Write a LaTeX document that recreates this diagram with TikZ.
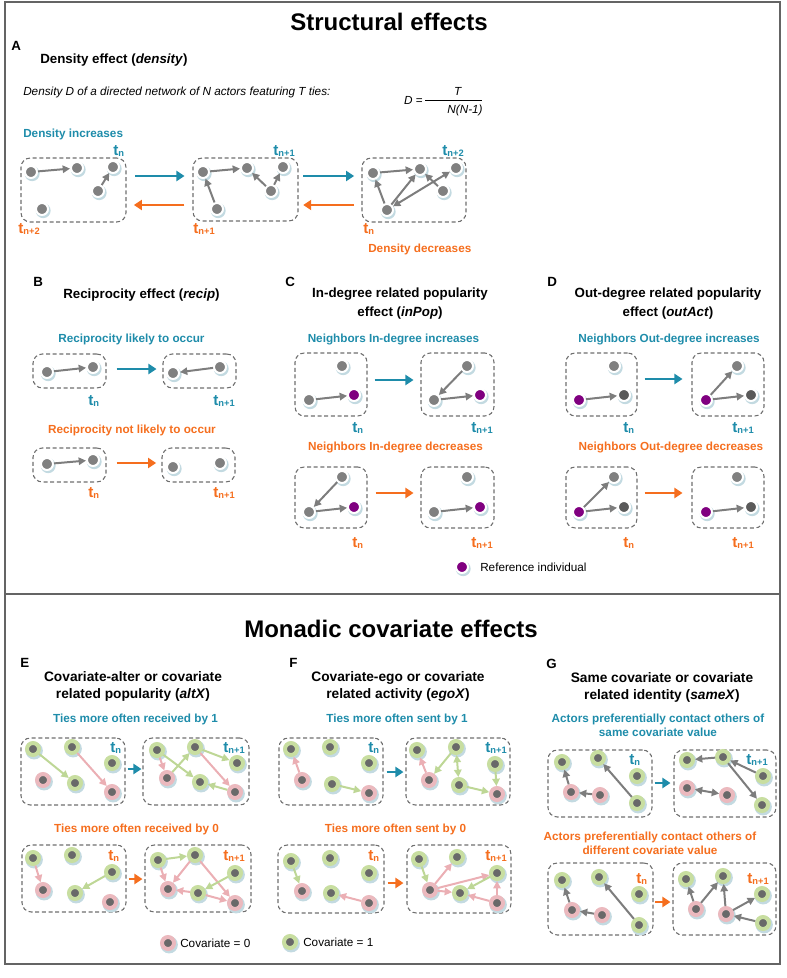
\documentclass[tikz,border=0pt]{standalone}
\usepackage{fontspec}
\setmainfont{Liberation Sans}
\usepackage{tikz}
\usetikzlibrary{arrows.meta,positioning,fit,shadows}
\definecolor{riseteal}{RGB}{30,140,170}
\definecolor{fallorange}{RGB}{245,110,30}
\definecolor{nodegray}{RGB}{128,128,128}
\definecolor{nodedark}{RGB}{90,90,90}
\definecolor{halo}{RGB}{195,218,225}
\definecolor{refpurple}{RGB}{128,0,128}
\definecolor{covcore}{RGB}{105,105,105}
\definecolor{covgreen}{RGB}{200,222,160}
\definecolor{covpink}{RGB}{235,185,190}
\definecolor{tiegreen}{RGB}{190,215,150}
\definecolor{tiepink}{RGB}{235,175,180}
\definecolor{edgegray}{RGB}{125,125,125}
\definecolor{boxgray}{RGB}{110,110,110}
\definecolor{framegray}{RGB}{100,100,100}

\newcommand{\tsub}[1]{t\raisebox{-1.2pt}{\fontsize{7}{8}\selectfont #1}}

\tikzset{
  actor/.style={circle, inner sep=0, minimum size=9pt, fill=nodegray, draw=white, line width=1.5pt,
    general shadow={fill=halo, shadow scale=1.25, shadow xshift=.7pt, shadow yshift=-1pt}},
  darkactor/.style={actor, fill=nodedark},
  refactor/.style={actor, fill=refpurple},
  cov0/.style={circle, inner sep=0, minimum size=9pt, fill=covcore, draw=covpink, line width=3pt,
    general shadow={fill=halo, shadow scale=1.45, shadow xshift=.6pt, shadow yshift=-.9pt}},
  cov1/.style={cov0, draw=covgreen},
  tie/.style={-{Triangle[length=5.5pt,width=5.5pt]}, line width=1.5pt, draw=edgegray},
  mutual/.style={tie, {Triangle[length=5.5pt,width=5.5pt]}-{Triangle[length=5.5pt,width=5.5pt]}},
  gtie/.style={tie, draw=tiegreen},
  ptie/.style={tie, draw=tiepink},
  gmutual/.style={mutual, draw=tiegreen},
  pmutual/.style={mutual, draw=tiepink},
  netbox/.style={draw=boxgray, dash pattern=on 3pt off 2pt, line width=.8pt, rounded corners=7pt, inner sep=0},
  risearrow/.style={-{Triangle[length=6pt,width=7.5pt]}, line width=2.2pt, draw=riseteal},
  fallarrow/.style={risearrow, draw=fallorange},
  heading/.style={font=\fontsize{18}{21}\selectfont\bfseries, inner sep=0, anchor=base},
  letter/.style={font=\fontsize{10}{12}\selectfont\bfseries, inner sep=0, anchor=base west},
  ptitle/.style={font=\fontsize{10}{14.25}\selectfont\bfseries, inner sep=0},
  ctitle/.style={font=\fontsize{10.3}{12.75}\selectfont\bfseries, inner sep=0, align=center, anchor=north},
  body/.style={font=\fontsize{8.8}{10.5}\selectfont, inner sep=0},
  risetxt/.style={font=\fontsize{8.8}{10.5}\selectfont\bfseries, text=riseteal, inner sep=0},
  falltxt/.style={risetxt, text=fallorange},
  risetime/.style={font=\fontsize{11.5}{13}\selectfont\bfseries, text=riseteal, inner sep=0, anchor=base west},
  falltime/.style={risetime, text=fallorange},
  frame/.style={draw=framegray, line width=1.1pt}
}

\begin{document}
\begin{tikzpicture}[x=0.75pt, y=-0.75pt]
\useasboundingbox (0,0) rectangle (787,978);
% Frame and divider
\draw[frame] (5,2) rectangle (780,964);
\draw[frame] (5,594) -- (780,594);
\node[heading] (hstruct) at (389,30) {Structural effects};
\node[heading] (hmona) at (391,637) {Monadic covariate effects};

% A: density
\node[letter] (labA) at (11,50) {A};
\node[ptitle, anchor=base west] (titA) at (40,63) {Density effect (\textit{density})};
\node[body, anchor=base west] (defA) at (23,95) {\textit{Density D of a directed network of N actors featuring T ties:}};
\node[body, anchor=base east] (eqD) at (423,104) {\textit{D} =};
\node[body, anchor=base] (eqT) at (458,95) {\textit{T}};
\node[body, anchor=base] (eqN) at (465,113.5) {\textit{N(N-1)}};
\draw[line width=.6pt] (425,100) -- (482,100);
\node[risetxt, anchor=base west] (upA) at (23,137) {Density increases};
\node[falltxt, anchor=base west] (downA) at (368,252) {Density decreases};
\node[netbox, fit={(21,158) (126,222)}] (boxA1) {};
\node[netbox, fit={(193,158) (298,221)}] (boxA2) {};
\node[netbox, fit={(362,158) (466,222)}] (boxA3) {};
\node[actor] (a11) at (31,172) {};
\node[actor] (a12) at (77,168) {};
\node[actor] (a13) at (113,167) {};
\node[actor] (a14) at (98,191) {};
\node[actor] (a15) at (42,209) {};
\draw[tie] (a11) -- (a12);
\draw[tie] (a14) -- (a13);
\node[actor] (a21) at (203,172) {};
\node[actor] (a22) at (247,168) {};
\node[actor] (a23) at (283,167) {};
\node[actor] (a24) at (271,191) {};
\node[actor] (a25) at (217,209) {};
\draw[tie] (a21) -- (a22);
\draw[tie] (a25) -- (a21);
\draw[tie] (a24) -- (a22);
\draw[tie] (a24) -- (a23);
\node[actor] (a31) at (373,173) {};
\node[actor] (a32) at (420,169) {};
\node[actor] (a33) at (456,168) {};
\node[actor] (a34) at (443,191) {};
\node[actor] (a35) at (387,210) {};
\draw[tie] (a31) -- (a32);
\draw[tie] (a35) -- (a31);
\draw[tie] (a35) -- (a32);
\draw[mutual] (a35) -- (a33);
\draw[tie] (a34) -- (a32);
\draw[risearrow, shorten <=6.5pt, shorten >=6pt] (boxA1.east |- 0,176) -- (boxA2.west |- 0,176);
\draw[fallarrow, shorten <=6pt, shorten >=5.5pt] (boxA2.west |- 0,205) -- (boxA1.east |- 0,205);
\draw[risearrow, shorten <=3.5pt, shorten >=5.5pt] (boxA2.east |- 0,176) -- (boxA3.west |- 0,176);
\draw[fallarrow, shorten <=5.5pt, shorten >=3.5pt] (boxA3.west |- 0,205) -- (boxA2.east |- 0,205);
\node[risetime] (tA1) at (113,155) {\tsub{n}};
\node[risetime] (tA2) at (273,155) {\tsub{n+1}};
\node[risetime] (tA3) at (442,155) {\tsub{n+2}};
\node[falltime] (fA1) at (18,233) {\tsub{n+2}};
\node[falltime] (fA2) at (193,233) {\tsub{n+1}};
\node[falltime] (fA3) at (363,233) {\tsub{n}};

% B: reciprocity
\node[letter] (labB) at (33,286) {B};
\node[ptitle, anchor=base west] (titB) at (63,298) {Reciprocity effect (\textit{recip})};
\node[risetxt, anchor=base] (upB) at (131.5,342) {Reciprocity likely to occur};
\node[falltxt, anchor=base] (downB) at (132,433) {Reciprocity not likely to occur};
\node[netbox, fit={(33,354) (106,388)}] (boxB1) {};
\node[netbox, fit={(163,354) (236,388)}] (boxB2) {};
\node[netbox, fit={(33,448) (106,482)}] (boxB3) {};
\node[netbox, fit={(162,448) (235,482)}] (boxB4) {};
\node[actor] (b11) at (47,372) {};
\node[actor] (b12) at (93,367) {};
\node[actor] (b21) at (173,373) {};
\node[actor] (b22) at (220,367) {};
\node[actor] (b31) at (47,464) {};
\node[actor] (b32) at (93,460) {};
\node[actor] (b41) at (173,467) {};
\node[actor] (b42) at (220,463) {};
\draw[tie] (b11) -- (b12);
\draw[tie] (b22) -- (b21);
\draw[tie] (b31) -- (b32);
\draw[risearrow, shorten <=7.5pt, shorten >=4.5pt] (boxB1.east |- 0,369) -- (boxB2.west |- 0,369);
\draw[fallarrow, shorten <=7.5pt, shorten >=4pt] (boxB3.east |- 0,463) -- (boxB4.west |- 0,463);
\node[risetime] (tB1) at (88,405) {\tsub{n}};
\node[risetime] (tB2) at (213,405) {\tsub{n+1}};
\node[falltime] (fB1) at (88,497) {\tsub{n}};
\node[falltime] (fB2) at (213,497) {\tsub{n+1}};

% C: in-degree popularity
\node[letter] (labC) at (285,286) {C};
\node[ptitle, align=center, anchor=north] (titC) at (400,288) {In-degree related popularity\\effect (\textit{inPop})};
\node[risetxt, anchor=base] (upC) at (393.5,342) {Neighbors In-degree increases};
\node[falltxt, anchor=base] (downC) at (395.5,450) {Neighbors In-degree decreases};
\node[netbox, fit={(295,353) (367,416)}] (boxC1) {};
\node[netbox, fit={(421,353) (494,416)}] (boxC2) {};
\node[netbox, fit={(295,467) (367,528)}] (boxC3) {};
\node[netbox, fit={(421,467) (494,528)}] (boxC4) {};
\node[actor] (c11) at (342,366) {};
\node[actor] (c12) at (309,400) {};
\node[refactor] (c13) at (354,395) {};
\node[actor] (c21) at (467,366) {};
\node[actor] (c22) at (434,400) {};
\node[refactor] (c23) at (480,395) {};
\node[actor] (c31) at (342,477) {};
\node[actor] (c32) at (309,512) {};
\node[refactor] (c33) at (354,507) {};
\node[actor] (c41) at (467,477) {};
\node[actor] (c42) at (434,512) {};
\node[refactor] (c43) at (480,507) {};
\draw[tie] (c12) -- (c13);
\draw[tie] (c22) -- (c23);
\draw[tie] (c21) -- (c22);
\draw[tie] (c31) -- (c32);
\draw[tie] (c32) -- (c33);
\draw[tie] (c42) -- (c43);
\draw[risearrow, shorten <=5.25pt, shorten >=5.25pt] (boxC1.east |- 0,380) -- (boxC2.west |- 0,380);
\draw[fallarrow, shorten <=6pt, shorten >=5.25pt] (boxC3.east |- 0,493) -- (boxC4.west |- 0,493);
\node[risetime] (tC1) at (352,432) {\tsub{n}};
\node[risetime] (tC2) at (471,432) {\tsub{n+1}};
\node[falltime] (fC1) at (352,547) {\tsub{n}};
\node[falltime] (fC2) at (471,547) {\tsub{n+1}};
\node[refactor] (legref) at (462,567) {};
\node[body, anchor=west] (legreftxt) at (480,567) {Reference individual};

% D: out-degree popularity
\node[letter] (labD) at (547,286) {D};
\node[ptitle, align=center, anchor=north] (titD) at (668,288) {Out-degree related popularity\\effect (\textit{outAct})};
\node[risetxt, anchor=base] (upD) at (669,342) {Neighbors Out-degree increases};
\node[falltxt, anchor=base] (downD) at (671,450) {Neighbors Out-degree decreases};
\node[netbox, fit={(566,353) (637,416)}] (boxD1) {};
\node[netbox, fit={(692,353) (764,416)}] (boxD2) {};
\node[netbox, fit={(566,467) (637,528)}] (boxD3) {};
\node[netbox, fit={(692,467) (764,528)}] (boxD4) {};
\node[actor] (d11) at (614,366) {};
\node[refactor] (d12) at (579,400) {};
\node[darkactor] (d13) at (624,395) {};
\node[actor] (d21) at (737,366) {};
\node[refactor] (d22) at (706,400) {};
\node[darkactor] (d23) at (751,395) {};
\node[actor] (d31) at (614,477) {};
\node[refactor] (d32) at (579,512) {};
\node[darkactor] (d33) at (624,507) {};
\node[actor] (d41) at (737,477) {};
\node[refactor] (d42) at (706,512) {};
\node[darkactor] (d43) at (751,507) {};
\draw[tie] (d12) -- (d13);
\draw[tie] (d22) -- (d23);
\draw[tie] (d22) -- (d21);
\draw[tie] (d32) -- (d31);
\draw[tie] (d32) -- (d33);
\draw[tie] (d42) -- (d43);
\draw[risearrow, shorten <=5.25pt, shorten >=6.75pt] (boxD1.east |- 0,379) -- (boxD2.west |- 0,379);
\draw[fallarrow, shorten <=5.25pt, shorten >=6.75pt] (boxD3.east |- 0,493) -- (boxD4.west |- 0,493);
\node[risetime] (tD1) at (623,432) {\tsub{n}};
\node[risetime] (tD2) at (732,432) {\tsub{n+1}};
\node[falltime] (fD1) at (623,547) {\tsub{n}};
\node[falltime] (fD2) at (732,547) {\tsub{n+1}};

% E: covariate-alter
\node[letter] (labE) at (20,667) {E};
\node[ctitle] (titE) at (133,671) {Covariate-alter or covariate\\related popularity (\textit{altX})};
\node[risetxt, anchor=base] (upE) at (135.5,722) {Ties more often received by 1};
\node[falltxt, anchor=base] (downE) at (136.5,832) {Ties more often received by 0};
\node[netbox, fit={(21,738) (125,805)}] (boxE1) {};
\node[netbox, fit={(143,738) (249,805)}] (boxE2) {};
\node[netbox, fit={(22,845) (126,912)}] (boxE3) {};
\node[netbox, fit={(145,845) (251,912)}] (boxE4) {};
\node[cov1] (e11) at (33,749) {};
\node[cov1] (e12) at (72,747) {};
\node[cov1] (e13) at (112,763) {};
\node[cov0] (e14) at (43,780) {};
\node[cov1] (e15) at (75,783) {};
\node[cov0] (e16) at (112,792) {};
\draw[gtie] (e11) -- (e15);
\draw[ptie] (e12) -- (e16);
\node[cov1] (e21) at (157,750) {};
\node[cov1] (e22) at (195,747) {};
\node[cov1] (e23) at (237,763) {};
\node[cov0] (e24) at (167,778) {};
\node[cov1] (e25) at (200,782) {};
\node[cov0] (e26) at (235,792) {};
\draw[gtie] (e21) -- (e25);
\draw[ptie] (e21) -- (e24);
\draw[gtie] (e24) -- (e22);
\draw[gtie] (e22) -- (e23);
\draw[ptie] (e22) -- (e26);
\draw[gtie] (e26) -- (e25);
\node[cov1] (e31) at (33,858) {};
\node[cov1] (e32) at (72,855) {};
\node[cov1] (e33) at (112,872) {};
\node[cov0] (e34) at (43,890) {};
\node[cov1] (e35) at (75,893) {};
\node[cov0] (e36) at (110,902) {};
\draw[ptie] (e31) -- (e34);
\draw[gtie] (e33) -- (e35);
\node[cov1] (e41) at (158,860) {};
\node[cov1] (e42) at (195,855) {};
\node[cov1] (e43) at (235,873) {};
\node[cov0] (e44) at (168,889) {};
\node[cov1] (e45) at (198,893) {};
\node[cov0] (e46) at (235,903) {};
\draw[gtie] (e41) -- (e42);
\draw[ptie] (e41) -- (e44);
\draw[ptie] (e42) -- (e44);
\draw[ptie] (e42) -- (e46);
\draw[gtie] (e43) -- (e45);
\draw[ptie] (e45) -- (e44);
\draw[ptie] (e45) -- (e46);
\draw[risearrow, shorten <=1.5pt, shorten >=.75pt] (boxE1.east |- 0,769) -- (boxE2.west |- 0,769);
\draw[fallarrow, shorten <=1.5pt, shorten >=1.5pt] (boxE3.east |- 0,879) -- (boxE4.west |- 0,879);
\node[risetime] (tE1) at (110,752) {\tsub{n}};
\node[risetime] (tE2) at (223,752) {\tsub{n+1}};
\node[falltime] (fE1) at (108,860) {\tsub{n}};
\node[falltime] (fE2) at (223,860) {\tsub{n+1}};
\node[cov0] (leg0) at (168,943) {};
\node[body, anchor=west] (leg0txt) at (180,943) {Covariate = 0};

% F: covariate-ego
\node[letter] (labF) at (289,667) {F};
\node[ctitle] (titF) at (398,671) {Covariate-ego or covariate\\related activity (\textit{egoX})};
\node[risetxt, anchor=base] (upF) at (397,722) {Ties more often sent by 1};
\node[falltxt, anchor=base] (downF) at (395.5,832) {Ties more often sent by 0};
\node[netbox, fit={(279,738) (383,805)}] (boxF1) {};
\node[netbox, fit={(406,738) (510,805)}] (boxF2) {};
\node[netbox, fit={(278,845) (384,913)}] (boxF3) {};
\node[netbox, fit={(407,845) (511,913)}] (boxF4) {};
\node[cov1] (f11) at (291,749) {};
\node[cov1] (f12) at (330,747) {};
\node[cov1] (f13) at (369,763) {};
\node[cov0] (f14) at (302,780) {};
\node[cov1] (f15) at (332,784) {};
\node[cov0] (f16) at (369,793) {};
\draw[ptie] (f14) -- (f11);
\draw[gtie] (f15) -- (f16);
\node[cov1] (f21) at (417,750) {};
\node[cov1] (f22) at (456,747) {};
\node[cov1] (f23) at (495,764) {};
\node[cov0] (f24) at (429,780) {};
\node[cov1] (f25) at (459,785) {};
\node[cov0] (f26) at (497,794) {};
\draw[ptie] (f24) -- (f21);
\draw[gtie] (f22) -- (f24);
\draw[gmutual] (f22) -- (f25);
\draw[gtie] (f25) -- (f26);
\draw[gtie] (f23) -- (f26);
\node[cov1] (f31) at (291,861) {};
\node[cov1] (f32) at (330,858) {};
\node[cov1] (f33) at (369,873) {};
\node[cov0] (f34) at (302,891) {};
\node[cov1] (f35) at (331,893) {};
\node[cov0] (f36) at (369,903) {};
\draw[gtie] (f31) -- (f34);
\draw[ptie] (f36) -- (f35);
\node[cov1] (f41) at (419,859) {};
\node[cov1] (f42) at (457,857) {};
\node[cov1] (f43) at (497,873) {};
\node[cov0] (f44) at (430,890) {};
\node[cov1] (f45) at (460,893) {};
\node[cov0] (f46) at (497,903) {};
\draw[gtie] (f41) -- (f44);
\draw[ptie] (f44) -- (f42);
\draw[ptie] (f44) -- (f43);
\draw[ptie] (f44) -- (f45);
\draw[gtie] (f43) -- (f45);
\draw[ptie] (f46) -- (f45);
\draw[ptie] (f46) -- (f43);
\draw[risearrow, shorten <=2.25pt, shorten >=1.5pt] (boxF1.east |- 0,772) -- (boxF2.west |- 0,772);
\draw[fallarrow, shorten <=2.25pt, shorten >=2.25pt] (boxF3.east |- 0,883) -- (boxF4.west |- 0,883);
\node[risetime] (tF1) at (368,752) {\tsub{n}};
\node[risetime] (tF2) at (485,752) {\tsub{n+1}};
\node[falltime] (fF1) at (368,860) {\tsub{n}};
\node[falltime] (fF2) at (485,860) {\tsub{n+1}};
\node[cov1] (leg1) at (290,942) {};
\node[body, anchor=west] (leg1txt) at (303,942) {Covariate = 1};

% G: same covariate
\node[letter] (labG) at (546,668) {G};
\node[ctitle] (titG) at (662,672) {Same covariate or covariate\\related identity (\textit{sameX})};
\node[risetxt, align=center, anchor=north] (upG) at (658,713.5) {Actors preferentially contact others of\\same covariate value};
\node[falltxt, align=center, anchor=north] (downG) at (650,831.5) {Actors preferentially contact others of\\different covariate value};
\node[netbox, fit={(548,750) (652,817)}] (boxG1) {};
\node[netbox, fit={(674,750) (776,817)}] (boxG2) {};
\node[netbox, fit={(548,863) (653,935)}] (boxG3) {};
\node[netbox, fit={(673,863) (776,935)}] (boxG4) {};
\node[cov1] (g11) at (562,762) {};
\node[cov1] (g12) at (598,758) {};
\node[cov1] (g13) at (637,776) {};
\node[cov0] (g14) at (571,792) {};
\node[cov0] (g15) at (600,795) {};
\node[cov1] (g16) at (637,803) {};
\draw[tie] (g14) -- (g11);
\draw[tie] (g15) -- (g14);
\draw[tie] (g16) -- (g12);
\node[cov1] (g21) at (687,760) {};
\node[cov1] (g22) at (723,757) {};
\node[cov1] (g23) at (763,776) {};
\node[cov0] (g24) at (687,788) {};
\node[cov0] (g25) at (727,795) {};
\node[cov1] (g26) at (762,805) {};
\draw[tie] (g22) -- (g21);
\draw[tie] (g23) -- (g22);
\draw[tie] (g22) -- (g26);
\draw[mutual] (g24) -- (g25);
\node[cov1] (g31) at (562,880) {};
\node[cov1] (g32) at (599,877) {};
\node[cov1] (g33) at (639,894) {};
\node[cov0] (g34) at (572,910) {};
\node[cov0] (g35) at (602,915) {};
\node[cov1] (g36) at (639,925) {};
\draw[tie] (g34) -- (g31);
\draw[tie] (g35) -- (g34);
\draw[tie] (g36) -- (g32);
\node[cov1] (g41) at (686,879) {};
\node[cov1] (g42) at (723,876) {};
\node[cov1] (g43) at (762,894) {};
\node[cov0] (g44) at (696,909) {};
\node[cov0] (g45) at (726,914) {};
\node[cov1] (g46) at (763,923) {};
\draw[tie] (g44) -- (g41);
\draw[tie] (g44) -- (g42);
\draw[tie] (g45) -- (g42);
\draw[tie] (g45) -- (g43);
\draw[tie] (g46) -- (g45);
\draw[risearrow, shorten <=1.5pt, shorten >=2.25pt] (boxG1.east |- 0,783) -- (boxG2.west |- 0,783);
\draw[fallarrow, shorten <=1pt, shorten >=1.5pt] (boxG3.east |- 0,902) -- (boxG4.west |- 0,902);
\node[risetime] (tG1) at (629,764) {\tsub{n}};
\node[risetime] (tG2) at (746,764) {\tsub{n+1}};
\node[falltime] (fG1) at (636,883) {\tsub{n}};
\node[falltime] (fG2) at (747,883) {\tsub{n+1}};
\end{tikzpicture}
\end{document}
